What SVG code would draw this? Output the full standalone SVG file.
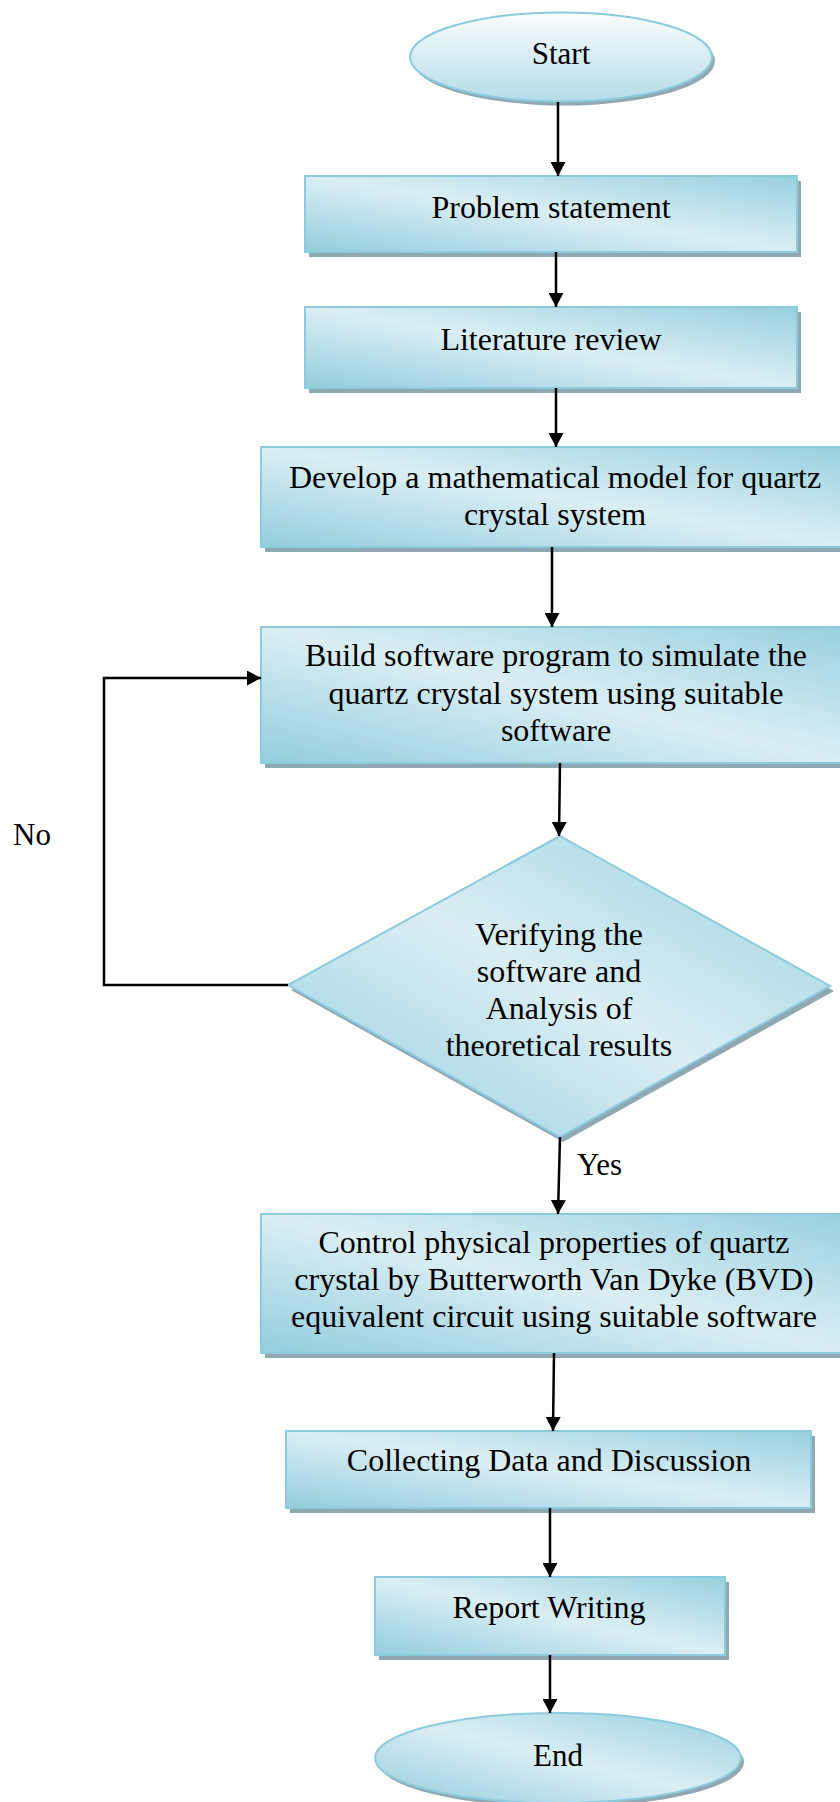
<svg xmlns="http://www.w3.org/2000/svg" width="840" height="1802" viewBox="0 0 840 1802">
  <defs>
    <!-- diagonal fill: darker at lower-left and upper-right corners, light band across the middle -->
    <linearGradient id="fillBox" x1="0" y1="1" x2="1" y2="0">
      <stop offset="0" stop-color="#93cddd"/>
      <stop offset="0.5" stop-color="#dbeef4"/>
      <stop offset="1" stop-color="#98d0de"/>
    </linearGradient>
    <!-- start terminator: white top fading to light blue -->
    <linearGradient id="fillStart" x1="0" y1="0" x2="0" y2="1">
      <stop offset="0" stop-color="#fbfdfe"/>
      <stop offset="1" stop-color="#b4dce7"/>
    </linearGradient>
    <marker id="arrow" viewBox="0 0 14 15" refX="14" refY="7.5" markerWidth="14" markerHeight="15" markerUnits="userSpaceOnUse" orient="auto">
      <path d="M0,0 L14,7.5 L0,15 Z" fill="#000"/>
    </marker>
    <style>
      .shape { stroke: #8ccbdc; stroke-width: 2; }
      .shadow { fill: #8fa8b2; }
      .label { font-family: "Liberation Serif", "Times New Roman", serif; font-size: 32px; fill: #000; text-anchor: middle; }
      .small { font-size: 31px; }
      .plain { text-anchor: start; }
      .link { fill: none; stroke: #000; stroke-width: 2.5; }
    </style>
  </defs>

  <rect width="840" height="1802" fill="#fff"/>

  <g id="start">
    <ellipse class="shadow" cx="564" cy="61" rx="151" ry="44.5"/>
    <ellipse class="shape" cx="561" cy="57" rx="151" ry="44.5" fill="url(#fillStart)"/>
    <text class="label small" x="561" y="64">Start</text>
  </g>

  <g id="problem">
    <rect class="shadow" x="309" y="181" width="492" height="76"/>
    <rect class="shape" x="305" y="176" width="492" height="76" fill="url(#fillBox)"/>
    <text class="label" x="551" y="218">Problem statement</text>
  </g>

  <g id="literature">
    <rect class="shadow" x="309" y="312" width="492" height="81"/>
    <rect class="shape" x="305" y="307" width="492" height="81" fill="url(#fillBox)"/>
    <text class="label" x="551" y="350">Literature review</text>
  </g>

  <g id="model">
    <rect class="shadow" x="265" y="452" width="588" height="100"/>
    <rect class="shape" x="261" y="447" width="588" height="100" fill="url(#fillBox)"/>
    <text class="label" x="555" y="488">Develop a mathematical model for quartz</text>
    <text class="label" x="555" y="525">crystal system</text>
  </g>

  <g id="simulate">
    <rect class="shadow" x="265" y="632" width="588" height="136"/>
    <rect class="shape" x="261" y="627" width="588" height="136" fill="url(#fillBox)"/>
    <text class="label" x="556" y="666">Build software program to simulate the</text>
    <text class="label" x="556" y="704">quartz crystal system using suitable</text>
    <text class="label" x="556" y="741">software</text>
  </g>

  <g id="verify">
    <polygon class="shadow" points="563,841 834,991 563,1142 291,990"/>
    <polygon class="shape" points="560,836 830,986 560,1137 288,985" fill="url(#fillBox)"/>
    <text class="label" x="559" y="945">Verifying the</text>
    <text class="label" x="559" y="982">software and</text>
    <text class="label" x="559" y="1019">Analysis of</text>
    <text class="label" x="559" y="1056">theoretical results</text>
  </g>

  <g id="control">
    <rect class="shadow" x="265" y="1219" width="588" height="139"/>
    <rect class="shape" x="261" y="1214" width="588" height="139" fill="url(#fillBox)"/>
    <text class="label" x="554" y="1253">Control physical properties of quartz</text>
    <text class="label" x="554" y="1290">crystal by Butterworth Van Dyke (BVD)</text>
    <text class="label" x="554" y="1327">equivalent circuit using suitable software</text>
  </g>

  <g id="collect">
    <rect class="shadow" x="290" y="1436" width="525" height="77"/>
    <rect class="shape" x="286" y="1431" width="525" height="77" fill="url(#fillBox)"/>
    <text class="label" x="549" y="1471">Collecting Data and Discussion</text>
  </g>

  <g id="report">
    <rect class="shadow" x="379" y="1582" width="350" height="78"/>
    <rect class="shape" x="375" y="1577" width="350" height="78" fill="url(#fillBox)"/>
    <text class="label" x="549" y="1618">Report Writing</text>
  </g>

  <g id="end">
    <ellipse class="shadow" cx="561" cy="1762" rx="183" ry="45"/>
    <ellipse class="shape" cx="558" cy="1758" rx="183" ry="45" fill="url(#fillBox)"/>
    <text class="label small" x="558" y="1766">End</text>
  </g>

  <g id="connectors">
    <line class="link" x1="558" y1="102" x2="558" y2="176" marker-end="url(#arrow)"/>
    <line class="link" x1="556" y1="252" x2="556" y2="307" marker-end="url(#arrow)"/>
    <line class="link" x1="556" y1="388" x2="556" y2="447" marker-end="url(#arrow)"/>
    <line class="link" x1="552" y1="547" x2="552" y2="627" marker-end="url(#arrow)"/>
    <line class="link" x1="560" y1="763" x2="559" y2="836" marker-end="url(#arrow)"/>
    <polyline class="link" points="288,985 104,985 104,678 261,678" marker-end="url(#arrow)"/>
    <line class="link" x1="560" y1="1137" x2="558" y2="1214" marker-end="url(#arrow)"/>
    <line class="link" x1="554" y1="1353" x2="553" y2="1431" marker-end="url(#arrow)"/>
    <line class="link" x1="550" y1="1508" x2="550" y2="1577" marker-end="url(#arrow)"/>
    <line class="link" x1="550" y1="1655" x2="550" y2="1713" marker-end="url(#arrow)"/>
    <text class="label small plain" x="13" y="845">No</text>
    <text class="label small plain" x="577" y="1175">Yes</text>
  </g>
</svg>
